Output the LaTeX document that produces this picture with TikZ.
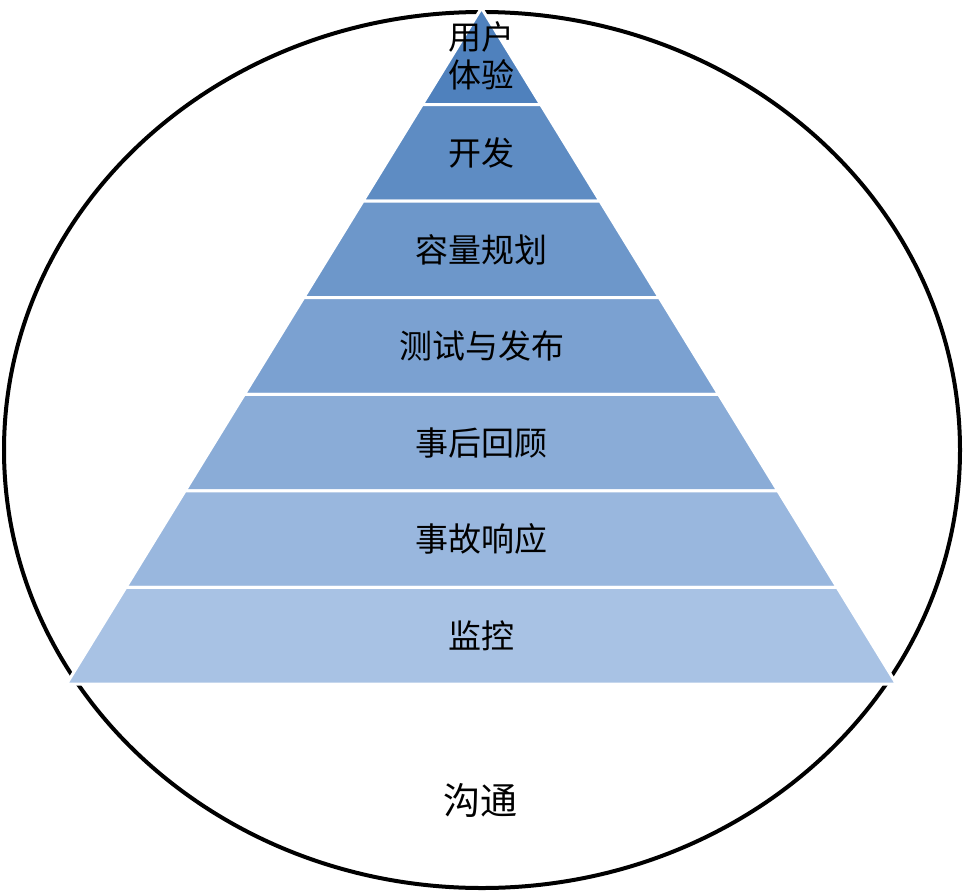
\documentclass[tikz,border=0pt]{standalone}
\usepackage{fontspec}
\newfontfamily\cjk{Noto Sans CJK SC}
\definecolor{topblue}{RGB}{79,129,189}
\definecolor{baseblue}{RGB}{168,194,228}

\begin{document}
\begin{tikzpicture}[%
    x=1pt, y=-1pt,
    layer/.style={draw=white, line width=3pt},
    tier/.style={font=\cjk\fontsize{33}{38}\selectfont, align=center},
  ]
    \useasboundingbox (0,0) rectangle (963,894);
    \draw[line width=4pt] (482,450) ellipse [x radius=478, y radius=438];

    \foreach \i/\t in {0/{用户\\体验},1/开发,2/容量规划,3/测试与发布,4/事后回顾,5/事故响应,6/监控} {
      \pgfmathsetmacro\ya{8+96.57*\i}
      \pgfmathsetmacro\yb{8+96.57*(\i+1)}
      \pgfmathsetmacro\wa{(\ya-8)/676*415}
      \pgfmathsetmacro\wb{(\yb-8)/676*415}
      \pgfmathsetmacro\p{100-\i*100/6}
      \coordinate (t\i) at (481.5,\ya);
      \filldraw[layer, fill=topblue!\p!baseblue]
        ([xshift=-\wa pt]t\i) -- ([xshift=\wa pt]t\i)
        -- (481.5+\wb,\yb) -- (481.5-\wb,\yb) -- cycle;
      \node[tier] (lbl\i) at (481.5,{(\ya+\yb)/2}) {\t};
    }
    \node[tier, font=\cjk\fontsize{37}{42}\selectfont] (talk) at (480,800) {沟通};
\end{tikzpicture}
\end{document}
